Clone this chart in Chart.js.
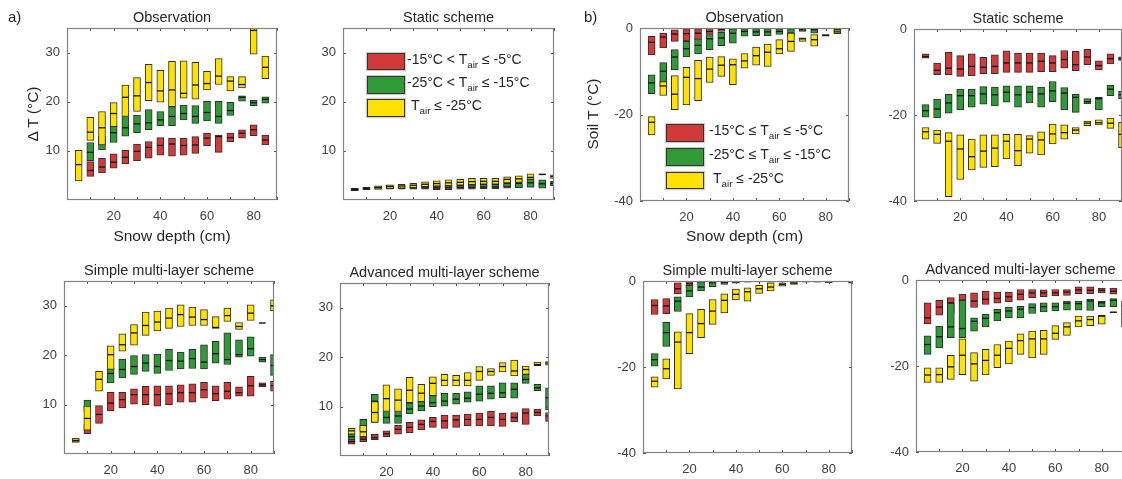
<!DOCTYPE html>
<html>
<head>
<meta charset="utf-8">
<script src="https://cdn.jsdelivr.net/npm/chart.js@4.4.1/dist/chart.umd.min.js"></script>
<style>
  body { margin: 0; width: 1122px; height: 479px; overflow: hidden; background: #fff; position: relative;
         font-family: 'Liberation Sans', Arial, Helvetica, sans-serif; color: #262626; }
  canvas { position: absolute; }
  .txt { position: absolute; white-space: nowrap; transform: translate(-50%, -50%); line-height: 1; }
  .title { font-size: 14.5px; }
  .axis { font-size: 15.5px; }
  .rot { transform: translate(-50%, -50%) rotate(-90deg); }
  .tag { font-size: 15px; transform: none; }
  .sw { position: absolute; box-sizing: border-box; border: 1px solid #333; box-shadow: 0 0 1px 1px rgba(0,0,0,0.2); }
  .lg { position: absolute; font-size: 14px; white-space: nowrap; line-height: 17px; }
  .lg sub { font-size: 70%; vertical-align: -0.45em; line-height: 0; }
</style>
</head>
<body>
<script>
// snow depth classes (cm)
const depth = [5, 10, 15, 20, 25, 30, 35, 40, 45, 50, 55, 60, 65, 70, 75, 80, 85, 90];
const xTicks = [10, 20, 30, 40, 50, 60, 70, 80, 90];
const xTickLabels = [20, 40, 60, 80];
const yTicksA = [10, 20, 30];
const yTicksB = [-40, -20, 0];
const colors = { red: '#d23a3a', green: '#2f9a36', yellow: '#ffe200' };
const legendA = ['-15°C &lt; T<sub>air</sub> ≤ -5°C', '-25°C &lt; T<sub>air</sub> ≤ -15°C', 'T<sub>air</sub> ≤ -25°C'];
const legendB = ['-15°C ≤ T<sub>air</sub> ≤ -5°C', '-25°C ≤ T<sub>air</sub> ≤ -15°C', 'T<sub>air</sub> ≤ -25°C'];

// each entry: [low, median, high], null = no data
// a) delta T, observation
const aObsRed = [null,[4.8,6.0,7.8],[5.5,6.7,8.5],[6.5,7.7,9.4],[7.4,8.7,10.1],[8.0,9.9,11.4],[8.5,10.7,11.9],[9.1,11.1,12.7],[8.9,11.4,12.6],[9.1,11.1,12.6],[9.5,11.2,12.9],[11.0,12.6,13.6],[9.7,12.9,13.2],[11.8,12.7,13.6],[12.6,13.6,14.3],[13.1,14.3,15.3],[11.2,12.2,13.2],null];
const aObsGreen = [null,[8.0,9.7,11.7],[10.2,12.0,13.0],[11.7,13.7,15.1],[13.0,14.7,17.0],[13.7,15.5,17.3],[14.3,15.7,18.4],[15.1,16.3,18.0],[15.1,17.0,19.0],[16.3,17.6,19.3],[15.6,17.0,19.2],[16.1,17.8,20.1],[15.6,17.0,20.1],[17.2,18.2,19.9],[20.1,20.9,21.2],[19.2,19.8,20.3],[19.7,20.5,21.0],null];
const aObsYellow = [[3.9,7.2,10.1],[12.1,13.8,16.8],[11.2,14.7,18.0],[14.9,17.6,19.8],[17.0,20.9,23.4],[18.0,21.2,24.9],[20.2,23.9,27.6],[19.9,22.2,26.4],[19.0,22.4,28.2],[20.7,21.7,28.3],[20.5,23.4,28.0],[22.4,23.7,26.2],[23.5,25.2,28.8],[22.2,24.2,25.1],[22.8,23.5,25.1],[29.7,34.5,35.2],[24.7,27.0,29.3],null];
// a) static scheme
const aStatRed = [[1.9,2.1,2.3],[2.1,2.3,2.5],[2.2,2.4,2.6],[2.2,2.45,2.7],[2.2,2.5,2.8],[2.2,2.5,2.8],[2.2,2.5,2.8],[2.1,2.45,2.8],[2.1,2.5,2.9],[2.2,2.55,2.9],[2.2,2.6,3.0],[2.3,2.65,3.0],[2.3,2.65,3.0],[2.4,2.8,3.2],[2.5,2.9,3.3],[2.6,3.0,3.5],[2.7,3.1,3.6],[3.0,3.3,3.6]];
const aStatGreen = [[1.9,2.15,2.4],[2.1,2.35,2.6],[2.2,2.5,2.8],[2.3,2.65,3.0],[2.3,2.7,3.0],[2.4,2.75,3.1],[2.5,2.8,3.2],[2.5,2.85,3.3],[2.5,2.9,3.4],[2.6,3.0,3.5],[2.6,3.1,3.6],[2.7,3.2,3.7],[2.7,3.2,3.7],[2.7,3.4,4.0],[2.5,3.4,4.3],[2.6,3.5,4.2],[2.4,3.3,4.1],[2.9,3.4,3.8]];
const aStatYellow = [[1.9,2.15,2.4],[2.1,2.35,2.6],[2.2,2.55,2.9],[2.3,2.75,3.1],[2.4,2.85,3.2],[2.5,3.0,3.4],[2.7,3.2,3.7],[2.8,3.35,3.9],[2.9,3.5,4.1],[3.0,3.6,4.2],[3.1,3.75,4.4],[3.2,3.8,4.4],[3.2,3.8,4.4],[3.5,4.2,4.7],[3.6,4.3,4.9],[4.2,4.6,5.3],[5.1,5.2,5.3],[4.4,4.8,5.1]];
// a) simple multi-layer scheme
const aSimpRed = [[2.4,2.7,3.1],[4.1,5.2,6.0],[6.2,8.0,9.8],[8.7,10.3,12.5],[9.3,11.0,12.5],[10.1,12.0,13.2],[10.0,12.0,13.7],[9.7,12.0,13.8],[10.0,12.2,13.8],[10.5,12.4,14.0],[10.5,12.4,14.2],[11.3,13.0,14.5],[10.8,12.2,13.8],[11.1,12.7,14.5],[11.7,12.4,13.6],[11.7,13.8,15.7],[13.6,14.0,14.4],[12.7,13.8,14.7]];
const aSimpGreen = [[2.4,2.7,3.1],[8.5,9.5,10.9],null,[14.4,16.3,17.4],[15.4,17.1,19.2],[16.1,17.7,19.9],[16.7,18.4,20.1],[16.3,17.7,20.2],[16.9,18.9,21.2],[17.2,18.8,20.6],[17.3,19.3,21.2],[17.2,18.6,22.1],[18.4,20.3,22.8],[18.1,19.1,24.5],[19.6,20.1,23.1],[19.8,21.3,23.7],[18.6,19.1,19.6],[15.9,17.9,20.1]];
const aSimpYellow = [[2.4,2.7,3.1],[4.8,7.2,9.7],[12.7,15.1,16.7],[17.1,20.1,21.9],[20.8,22.1,24.3],[22.0,24.5,26.2],[24.0,26.0,28.7],[24.9,26.7,28.9],[25.4,27.5,29.5],[25.8,28.2,30.2],[26.0,27.7,29.7],[26.0,27.2,29.2],[25.4,25.6,27.8],[26.8,28.0,29.5],[25.2,25.8,26.6],[27.0,28.5,30.2],[26.45,26.5,26.55],[29.0,30.0,31.2]];
// a) advanced multi-layer scheme
const aAdvRed = [[2.4,2.9,3.3],[2.9,3.4,3.9],[3.3,3.7,4.4],[3.9,4.5,5.1],[4.4,5.4,6.2],[4.7,5.8,6.8],[5.3,6.4,7.3],[5.8,7.0,7.8],[5.6,7.1,8.3],[5.8,7.3,8.3],[6.1,7.4,8.5],[6.1,7.4,8.7],[6.1,7.8,9.1],[6.0,7.4,8.7],[6.9,7.8,8.8],[6.4,8.7,9.6],[8.1,8.8,9.5],[7.0,8.1,8.8]];
const aAdvGreen = [[3.3,3.9,4.5],[5.0,5.5,7.4],[6.8,11.1,12.5],[6.6,7.8,9.0],[6.6,8.1,9.0],[8.5,9.5,10.7],[9.1,10.1,11.0],[10.0,10.8,12.2],[10.1,11.1,12.7],[10.5,11.5,12.7],[10.9,11.7,13.0],[11.1,12.5,14.2],[11.5,12.7,14.2],[11.8,12.8,14.8],[11.7,13.5,14.8],[14.7,15.5,16.5],[13.2,13.8,14.5],[9.3,11.8,13.8]];
const aAdvYellow = [[4.4,5.1,5.6],[3.9,4.9,6.2],[6.8,8.8,11.0],[9.0,11.6,14.4],[9.0,11.3,13.6],[10.8,13.3,15.9],[11.0,12.7,14.5],[12.2,14.7,16.0],[14.2,15.3,16.5],[14.2,15.3,16.3],[14.2,15.3,16.9],[15.3,17.1,18.1],[16.3,17.1,17.7],[17.0,18.1,18.9],[16.2,17.2,19.4],[16.5,17.5,18.2],[18.3,18.5,19.0],[18.4,18.8,19.1]];
// b) soil temperature, observation
const bObsRed = [[-6.2,-3.3,-1.9],[-4.6,-2.1,-1.2],[-3.1,-1.4,-0.4],[-3.0,-1.3,-0.2],[-2.7,-1.2,-0.2],[-1.5,-0.8,0],[-0.8,-0.3,0],[-0.6,-0.2,0],null,null,null,null,null,null,null,null,[-1.0,-0.6,-0.2],null];
const bObsGreen = [[-15.2,-12.7,-10.8],[-13.5,-10.0,-8.0],[-9.7,-6.7,-5.0],[-6.7,-4.8,-3.1],[-6.0,-4.0,-2.5],[-5.0,-2.5,-1.5],[-4.1,-2.3,-1.0],[-3.5,-1.2,-0.2],[-1.9,-0.8,-0.2],[-1.8,-0.9,-0.2],[-1.8,-0.9,-0.2],[-1.5,-0.8,-0.2],[-1.9,-1.2,-0.2],[-0.8,-0.4,0],[-1.2,-0.4,0],[-0.2,-0.1,0],[-1.2,-0.8,-0.3],null];
const bObsYellow = [[-24.7,-21.8,-20.5],[-15.6,-13.4,-12.4],[-18.9,-15.3,-11.0],[-17.8,-11.4,-9.1],[-16.8,-11.7,-7.5],[-12.6,-9.5,-6.7],[-11.2,-8.6,-6.6],[-13.1,-8.5,-7.1],[-9.3,-7.6,-5.9],[-8.6,-6.4,-4.4],[-8.9,-5.6,-3.7],[-6.0,-4.8,-2.7],[-5.4,-3.1,-1.2],[-3.1,-2.5,-2.3],[-4.2,-2.7,-1.5],[-1.9,-1.7,-1.5],[-1.3,-0.9,-0.4],null];
// b) static scheme
const bStatRed = [[-6.8,-6.4,-5.8],[-10.6,-9.6,-7.9],[-10.6,-9.1,-5.4],[-11.0,-9.3,-6.2],[-10.9,-8.7,-5.8],[-10.4,-8.9,-6.6],[-10.4,-8.7,-6.0],[-10.1,-7.9,-5.1],[-10.1,-7.9,-5.6],[-10.1,-7.9,-5.6],[-9.9,-7.5,-5.6],[-9.9,-7.9,-6.2],[-9.1,-7.1,-5.0],[-9.7,-8.3,-5.2],[-8.3,-6.5,-4.7],[-9.5,-8.5,-7.4],[-8.1,-6.9,-5.8],[-7.3,-6.9,-6.5]];
const bStatGreen = [[-20.5,-19.0,-17.6],[-20.7,-18.6,-16.3],[-19.6,-17.2,-15.2],[-18.8,-15.5,-14.0],[-18.2,-15.5,-14.0],[-17.5,-15.1,-13.4],[-17.9,-15.3,-13.5],[-17.0,-14.7,-13.2],[-18.2,-15.3,-13.2],[-17.2,-14.7,-13.2],[-18.2,-15.1,-13.5],[-16.9,-14.4,-12.2],[-18.8,-14.9,-13.6],[-19.4,-15.9,-15.2],[-17.4,-16.9,-16.2],[-18.8,-16.2,-15.9],[-15.5,-14.0,-13.1],[-16.2,-15.3,-14.5]];
const bStatYellow = [[-25.6,-23.9,-22.9],[-26.6,-24.5,-23.5],[-39.0,-26.1,-24.1],[-35.0,-27.9,-24.6],[-32.8,-29.7,-25.6],[-32.2,-28.4,-24.6],[-32.0,-27.7,-24.6],[-30.2,-26.1,-24.5],[-31.8,-28.3,-24.5],[-28.9,-25.6,-24.8],[-29.3,-25.8,-23.9],[-26.7,-24.4,-22.1],[-25.6,-24.1,-22.3],[-24.4,-23.5,-22.9],[-22.5,-21.9,-21.4],[-22.3,-21.8,-21.1],[-23.1,-21.9,-20.7],[-27.6,-24.5,-21.7]];
// b) simple multi-layer scheme
const bSimpRed = [[-7.8,-5.7,-4.3],[-7.6,-5.8,-4.1],[-3.0,-1.8,-0.4],[-1.6,-0.6,0],[-0.4,-0.2,0],null,null,null,null,null,null,null,null,null,null,null,null,null];
const bSimpGreen = [[-19.8,-18.3,-16.9],[-15.2,-12.0,-9.6],[-7.1,-4.7,-3.7],[-3.7,-2.3,-1.0],[-2.3,-1.4,-0.2],[-1.3,-0.4,0],[-0.8,-0.3,0],[-0.5,-0.2,0],[-0.3,-0.1,0],null,[-0.3,-0.1,0],null,null,null,null,null,null,null];
const bSimpYellow = [[-24.7,-23.3,-22.3],[-22.8,-20.4,-18.1],[-25.1,-14.2,-11.8],[-16.9,-12.0,-7.6],[-13.2,-9.9,-6.6],[-10.1,-7.0,-4.3],[-7.4,-4.5,-3.0],[-4.4,-3.1,-1.9],[-4.7,-2.5,-1.6],[-2.9,-1.8,-1.0],[-2.3,-1.4,-0.4],[-1.2,-0.8,-0.4],[-0.8,-0.5,-0.2],[-0.3,-0.1,0],[-0.3,-0.1,0],[-0.4,-0.2,0],null,[-0.5,-0.3,0]];
// b) advanced multi-layer scheme
const bAdvRed = [[-10.2,-8.8,-5.3],[-8.2,-6.3,-4.7],[-7.6,-5.3,-4.1],[-4.8,-4.7,-3.3],[-6.4,-4.9,-3.0],[-5.7,-4.5,-2.6],[-5.4,-4.3,-2.8],[-5.1,-3.9,-2.8],[-4.7,-3.3,-2.2],[-4.1,-3.0,-2.2],[-3.9,-3.0,-2.3],[-3.7,-3.0,-2.2],[-3.6,-2.8,-2.2],[-3.2,-2.3,-1.6],[-3.2,-2.4,-1.6],[-3.0,-2.4,-1.9],[-3.3,-2.6,-1.9],null];
const bAdvGreen = [[-17.3,-15.0,-13.0],[-15.8,-13.2,-10.7],[-13.4,-10.9,-5.4],[-13.4,-11.3,-4.7],[-11.9,-9.6,-8.8],[-10.9,-8.9,-8.0],[-9.5,-7.6,-6.8],[-8.8,-7.2,-6.3],[-8.8,-6.8,-6.1],[-7.8,-6.4,-5.5],[-7.4,-6.2,-5.3],[-7.2,-6.2,-5.3],[-7.0,-5.4,-4.9],[-7.0,-5.5,-4.9],[-7.1,-4.9,-4.5],[-6.2,-5.3,-4.9],[-6.2,-4.7,-4.3],[-7.5,-6.0,-4.9]];
const bAdvYellow = [[-23.8,-22.1,-20.4],[-23.8,-22.0,-20.4],[-23.1,-20.2,-17.5],[-22.0,-17.5,-13.7],[-23.5,-19.5,-16.9],[-22.1,-18.7,-16.1],[-20.4,-17.5,-15.0],[-19.5,-15.9,-14.2],[-17.3,-14.1,-12.5],[-18.1,-13.7,-11.9],[-17.3,-13.7,-11.7],[-13.8,-12.4,-10.6],[-12.9,-10.9,-9.9],[-10.9,-9.5,-8.4],[-10.6,-9.2,-8.4],[-10.3,-8.4,-8.2],[-7.6,-7.5,-7.4],[-10.9,-8.5,-7.6]];

Chart.defaults.font.family = "'Liberation Sans', Arial, Helvetica, sans-serif";
Chart.defaults.font.size = 13;
Chart.defaults.color = '#404040';

const panels = [
  { L: 67, T: 28, W: 210, H: 172, title: 'Observation', kind: 'a', red: aObsRed, green: aObsGreen, yellow: aObsYellow },
  { L: 343, T: 28, W: 211, H: 172, title: 'Static scheme', kind: 'a', red: aStatRed, green: aStatGreen, yellow: aStatYellow },
  { L: 64, T: 281, W: 210, H: 173, title: 'Simple multi-layer scheme', kind: 'a', red: aSimpRed, green: aSimpGreen, yellow: aSimpYellow },
  { L: 340, T: 283, W: 209, H: 173, title: 'Advanced multi-layer scheme', kind: 'a', red: aAdvRed, green: aAdvGreen, yellow: aAdvYellow },
  { L: 640, T: 28, W: 209, H: 173, title: 'Observation', kind: 'b', red: bObsRed, green: bObsGreen, yellow: bObsYellow },
  { L: 914, T: 29, W: 208, H: 172, title: 'Static scheme', kind: 'b', red: bStatRed, green: bStatGreen, yellow: bStatYellow },
  { L: 643, T: 281, W: 209, H: 172, title: 'Simple multi-layer scheme', kind: 'b', red: bSimpRed, green: bSimpGreen, yellow: bSimpYellow },
  { L: 916, T: 280, W: 209, H: 172, title: 'Advanced multi-layer scheme', kind: 'b', red: bAdvRed, green: bAdvGreen, yellow: bAdvYellow }
];

const PAD_L = 40, PAD_T = 8, PAD_R = 8, PAD_B = 30;

// axes box with inward tick marks, like the original figure
const frame = {
  id: 'frame',
  afterDatasetsDraw(chart) {
    const { ctx, chartArea: a, scales: { x, y } } = chart;
    ctx.save();
    ctx.strokeStyle = '#555';
    ctx.lineWidth = 1;
    ctx.beginPath();
    x.ticks.forEach(t => {
      const px = Math.round(x.getPixelForValue(t.value)) + 0.5;
      ctx.moveTo(px, a.bottom); ctx.lineTo(px, a.bottom - 3);
      ctx.moveTo(px, a.top); ctx.lineTo(px, a.top + 3);
    });
    y.ticks.forEach(t => {
      const py = Math.round(y.getPixelForValue(t.value)) + 0.5;
      ctx.moveTo(a.left, py); ctx.lineTo(a.left + 3, py);
      ctx.moveTo(a.right, py); ctx.lineTo(a.right - 3, py);
    });
    ctx.stroke();
    ctx.strokeStyle = '#828282';
    ctx.lineWidth = 1.2;
    ctx.strokeRect(a.left + 0.5, a.top + 0.5, a.right - a.left - 1, a.bottom - a.top - 1);
    ctx.restore();
  }
};

function boxes(series) {
  return depth.map((d, i) => series[i] ? { x: d, y: [series[i][0], series[i][2]] } : null).filter(Boolean);
}
function medians(series) {
  return depth.map((d, i) => series[i] ? { x: d, y: series[i][1] } : null).filter(Boolean);
}

function addText(html, x, y, cls) {
  const d = document.createElement('div');
  d.className = 'txt ' + cls;
  d.innerHTML = html;
  d.style.left = x + 'px';
  d.style.top = y + 'px';
  document.body.appendChild(d);
}

function noPad(s) {
  s.paddingTop = 0; s.paddingBottom = 0; s.paddingLeft = 0; s.paddingRight = 0;
}

panels.forEach(p => {
  const cv = document.createElement('canvas');
  cv.width = p.W + PAD_L + PAD_R;
  cv.height = p.H + PAD_T + PAD_B;
  cv.style.left = (p.L - PAD_L) + 'px';
  cv.style.top = (p.T - PAD_T) + 'px';
  document.body.appendChild(cv);

  const yTicks = p.kind === 'a' ? yTicksA : yTicksB;
  const datasets = [];
  // lower order is drawn on top: yellow over green over red
  ['yellow', 'green', 'red'].forEach((name, k) => {
    datasets.push({
      type: 'line', data: medians(p[name]), showLine: false,
      pointStyle: 'line', pointRadius: 3.2, pointBorderColor: '#141414', pointBorderWidth: 1.3,
      pointHoverRadius: 3.2, clip: 0, order: k * 2
    });
    datasets.push({
      type: 'bar', data: boxes(p[name]), backgroundColor: colors[name],
      borderColor: '#2e2e2e', borderWidth: 1, borderSkipped: false,
      barThickness: 7, grouped: false, clip: 0, order: k * 2 + 1
    });
  });

  new Chart(cv, {
    type: 'bar',
    data: { datasets },
    options: {
      responsive: false,
      animation: false,
      layout: { padding: { top: PAD_T, right: PAD_R, left: 0, bottom: 0 } },
      plugins: { legend: { display: false }, tooltip: { enabled: false } },
      scales: {
        x: {
          type: 'linear', min: 0, max: 90, offset: false,
          grid: { display: false, drawTicks: false, tickLength: 0 }, border: { display: false },
          afterBuildTicks: s => { s.ticks = xTicks.map(v => ({ value: v })); },
          afterFit: s => { s.height = PAD_B; noPad(s); },
          ticks: { autoSkip: false, maxRotation: 0, padding: 9,
                   callback: v => xTickLabels.includes(v) ? String(v) : '' }
        },
        y: {
          type: 'linear', min: p.kind === 'a' ? 0 : -40, max: p.kind === 'a' ? 35 : 0,
          grid: { display: false, drawTicks: false, tickLength: 0 }, border: { display: false },
          afterBuildTicks: s => { s.ticks = yTicks.map(v => ({ value: v })); },
          afterFit: s => { s.width = PAD_L; noPad(s); },
          ticks: { padding: 7, callback: v => String(v) }
        }
      }
    },
    plugins: [frame]
  });

  addText(p.title, p.L + p.W / 2, p.T - 11.5, 'title');
});

// axis titles and panel tags
addText('Δ T (°C)', 33, 114, 'axis rot');
addText('Soil T (°C)', 593, 114, 'axis rot');
addText('Snow depth (cm)', 172, 236, 'axis');
addText('Snow depth (cm)', 744.5, 236, 'axis');
addText('a)', 8, 9, 'tag');
addText('b)', 584, 9, 'tag');

// legends
function legend(items, left, tops, textLeft) {
  ['red', 'green', 'yellow'].forEach((name, i) => {
    const s = document.createElement('div');
    s.className = 'sw';
    s.style.cssText = `left:${left}px;top:${tops[i]}px;width:38px;height:17.5px;background:${colors[name]}`;
    document.body.appendChild(s);
    const t = document.createElement('div');
    t.className = 'lg';
    t.innerHTML = items[i];
    t.style.left = (textLeft + (i === 2 ? 4 : 0)) + 'px';
    t.style.top = (tops[i] - 2) + 'px';
    document.body.appendChild(t);
  });
}
legend(legendA, 366.5, [52.7, 76, 99.3], 407);
legend(legendB, 666, [124.3, 148, 171.7], 709);
</script>
</body>
</html>
